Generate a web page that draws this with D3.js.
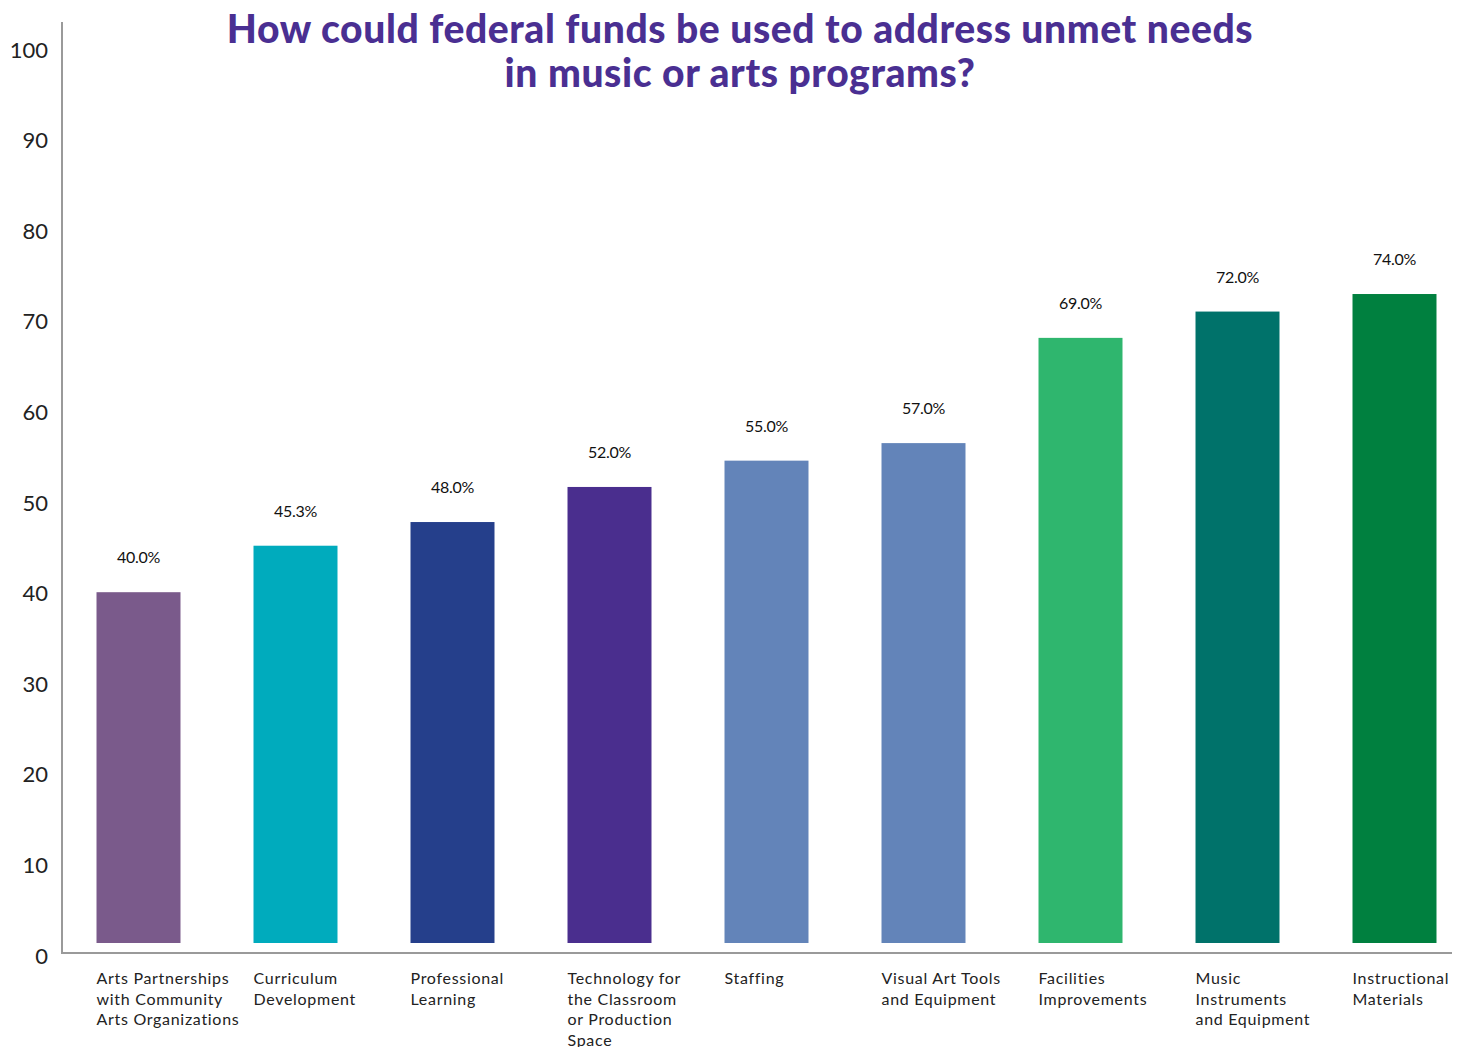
<!DOCTYPE html>
<html>
<head>
<meta charset="utf-8">
<script src="https://cdn.jsdelivr.net/npm/d3@7"></script>
<style>
  html, body { margin: 0; padding: 0; background: #fff; }
  svg { display: block; font-family: Lato, "Open Sans", sans-serif; }
</style>
</head>
<body>
<div class="chart"></div>
<script>
const categories = [
  'Arts Partnerships\nwith Community\nArts Organizations',
  'Curriculum\nDevelopment',
  'Professional\nLearning',
  'Technology for\nthe Classroom\nor Production\nSpace',
  'Staffing',
  'Visual Art Tools\nand Equipment',
  'Facilities\nImprovements',
  'Music\nInstruments\nand Equipment',
  'Instructional\nMaterials'
]
const values = [40.0, 45.3, 48.0, 52.0, 55.0, 57.0, 69.0, 72.0, 74.0]
const barColors = ['#7a5a8b', '#00abbd', '#253f8b', '#4a2e8e', '#6384b9', '#6384b9', '#2fb66e', '#00726a', '#00803f']
const yTicks = [0, 10, 20, 30, 40, 50, 60, 70, 80, 90, 100]
const titleLines = ['How could federal funds be used to address unmet needs', 'in music or arts programs?']

const w = 1462
const h = 1047
const axisX = 62
const axisY = 953

const svg = d3.select('.chart')
  .append('svg')
  .attr('width', w)
  .attr('height', h)

const x = d3.scaleBand()
  .domain(categories)
  .range([60, 1473])
  .paddingInner(0.465)
  .paddingOuter(0.2325)

// bars sit a little above the axis line in the original
const y = d3.scaleLinear().domain([0, 100]).range([943, 66])
// tick labels are spread slightly wider than the bars
const yLabel = d3.scaleLinear().domain([0, 100]).range([956, 50])

// title
svg.append('g')
  .selectAll('text')
  .data(titleLines)
  .join('text')
  .attr('x', 740)
  .attr('y', (d, i) => 43 + i * 44)
  .attr('text-anchor', 'middle')
  .attr('fill', '#4a2f92')
  .attr('font-size', 39)
  .attr('font-weight', 900)
  .attr('letter-spacing', 0.6)
  .text(d => d)

// axis lines
svg.append('line')
  .attr('x1', axisX).attr('x2', axisX)
  .attr('y1', 22).attr('y2', axisY)
  .attr('stroke', '#9a9a9a').attr('stroke-width', 2)
svg.append('line')
  .attr('x1', axisX - 1).attr('x2', 1452)
  .attr('y1', axisY).attr('y2', axisY)
  .attr('stroke', '#9a9a9a').attr('stroke-width', 2)

// y tick labels
const yAxis = svg.append('g')
  .attr('transform', `translate(${axisX},0)`)
  .call(d3.axisLeft(yLabel).tickValues(yTicks).tickSize(0).tickPadding(14))
yAxis.select('.domain').remove()
yAxis.selectAll('text')
  .attr('font-family', 'Lato, "Open Sans", sans-serif')
  .attr('font-size', 22)
  .attr('fill', '#222')

// bars
svg.append('g')
  .selectAll('rect')
  .data(values)
  .join('rect')
  .attr('x', (d, i) => x(categories[i]))
  .attr('y', d => y(d))
  .attr('width', x.bandwidth())
  .attr('height', d => y(0) - y(d))
  .attr('fill', (d, i) => barColors[i])

// value labels
svg.append('g')
  .selectAll('text')
  .data(values)
  .join('text')
  .attr('x', (d, i) => x(categories[i]) + x.bandwidth() / 2)
  .attr('y', d => y(d) - 29)
  .attr('text-anchor', 'middle')
  .attr('font-size', 16)
  .attr('letter-spacing', -0.3)
  .attr('fill', '#111')
  .text(d => d.toFixed(1) + '%')

// category labels
const cat = svg.append('g')
  .selectAll('text')
  .data(categories)
  .join('text')
  .attr('x', d => x(d))
  .attr('y', 984)
  .attr('font-size', 16)
  .attr('letter-spacing', 0.7)
  .attr('fill', '#222')
cat.selectAll('tspan')
  .data(d => d.split('\n').map(line => ({ line, x: x(d) })))
  .join('tspan')
  .attr('x', d => d.x)
  .attr('dy', (d, i) => i === 0 ? 0 : 20.5)
  .text(d => d.line)
</script>
</body>
</html>
